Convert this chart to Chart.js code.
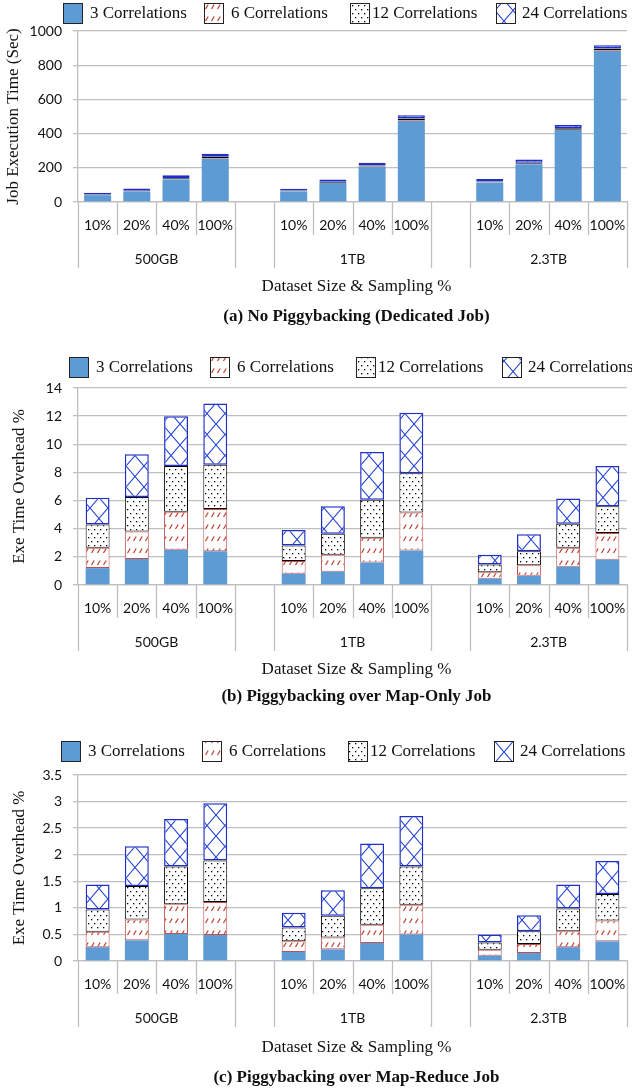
<!DOCTYPE html>
<html>
<head>
<meta charset="utf-8">
<script src="https://cdn.jsdelivr.net/npm/chart.js@4.4.0/dist/chart.umd.min.js"></script>
<style>
  html, body { margin: 0; padding: 0; background: #fff; overflow: hidden; }
  canvas { position: absolute; left: 0; }
</style>
</head>
<body>
<canvas id="chartA" width="632" height="340" style="top:0px"></canvas>
<canvas id="chartB" width="632" height="370" style="top:340px"></canvas>
<canvas id="chartC" width="632" height="381" style="top:710px"></canvas>
<script>
// Categories
const sizes = ['500GB', '1TB', '2.3TB'];
const samplings = ['10%', '20%', '40%', '100%'];
const seriesNames = ['3 Correlations', '6 Correlations', '12 Correlations', '24 Correlations'];

// (a) Job execution time (sec), stacked layers
const timeCorr3 = [40, 60, 132, 252, 62, 111, 205, 474, 113, 221, 421, 883];
const timeCorr6 = [1, 1, 1, 3, 1, 2, 2, 4, 2, 2, 2, 5];
const timeCorr12 = [3, 5, 6, 10, 4, 5, 6, 10, 5, 7, 9, 10];
const timeCorr24 = [10, 13, 17, 17, 11, 13, 17, 20, 15, 18, 18, 19];

// (b) Exe time overhead %, map-only job
const mapCorr3 = [1.2, 1.85, 2.5, 2.4, 0.8, 0.95, 1.6, 2.45, 0.45, 0.65, 1.3, 1.8];
const mapCorr6 = [1.45, 1.95, 2.7, 3.0, 0.9, 1.2, 1.75, 2.7, 0.45, 0.75, 1.35, 1.9];
const mapCorr12 = [1.65, 2.45, 3.25, 3.15, 1.1, 1.5, 2.7, 2.8, 0.55, 1.0, 1.7, 1.9];
const mapCorr24 = [1.9, 3.05, 3.55, 4.35, 1.1, 1.95, 3.4, 4.3, 0.7, 1.2, 1.8, 2.85];

// (c) Exe time overhead %, map-reduce job
const mrCorr3 = [0.26, 0.39, 0.51, 0.49, 0.17, 0.22, 0.34, 0.50, 0.10, 0.15, 0.26, 0.37];
const mrCorr6 = [0.29, 0.39, 0.56, 0.62, 0.20, 0.22, 0.34, 0.56, 0.11, 0.17, 0.30, 0.39];
const mrCorr12 = [0.42, 0.63, 0.71, 0.78, 0.26, 0.41, 0.69, 0.72, 0.14, 0.24, 0.43, 0.50];
const mrCorr24 = [0.47, 0.75, 0.89, 1.08, 0.28, 0.48, 0.84, 0.95, 0.15, 0.30, 0.45, 0.62];

// one empty category between the size groups
const labels = [];
sizes.forEach((s, g) => {
  if (g > 0) labels.push('');
  samplings.forEach(p => labels.push(p));
});
function spread(values) {
  const out = [];
  values.forEach((v, i) => {
    if (i > 0 && i % samplings.length === 0) out.push(null);
    out.push(v);
  });
  return out;
}

const SERIF = '"Liberation Serif", "Times New Roman", serif';
const SANS = 'Lato, "Open Sans", sans-serif';
const GRID = '#BFBFBF';

function makePattern(w, h, draw) {
  const c = document.createElement('canvas');
  c.width = w; c.height = h;
  const g = c.getContext('2d');
  g.fillStyle = '#fff';
  g.fillRect(0, 0, w, h);
  draw(g);
  return g.createPattern(c, 'repeat');
}
const redDashes = makePattern(6, 12, g => {
  g.strokeStyle = '#C0392B'; g.lineWidth = 1.2;
  g.beginPath(); g.moveTo(1.5, 9); g.lineTo(4.2, 4.5); g.stroke();
});
const dots = makePattern(6, 8, g => {
  g.fillStyle = '#000';
  g.fillRect(1, 1, 1.3, 1.3);
  g.fillRect(4, 5, 1.3, 1.3);
});
const lattice = makePattern(18, 21, g => {
  g.strokeStyle = '#1F3FD6'; g.lineWidth = 1.1;
  g.beginPath();
  g.moveTo(0, 21); g.lineTo(18, 0);
  g.moveTo(0, 0); g.lineTo(18, 21);
  g.stroke();
});

const fills = ['#5E9AD4', redDashes, dots, lattice];
const borders = ['#5E9AD4', '#C0504D', '#000000', '#1F2FC8'];
const borderWidths = [0, 1, 1, 1.5];

// legend, category table, titles, caption
const decorPlugin = {
  id: 'decor',
  afterDraw(chart, args, o) {
    const {ctx, chartArea: area, scales: {x}} = chart;
    const base = area.bottom;
    const n = labels.length;
    ctx.save();

    // category table lines
    ctx.strokeStyle = GRID; ctx.lineWidth = 1.3;
    for (let k = 0; k <= n; k++) {
      const px = Math.round(x.getPixelForValue(k - 0.5)) + 0.5;
      const full = k === 0 || k === n || labels[k - 1] === '' || labels[k] === '';
      ctx.beginPath();
      ctx.moveTo(px, base);
      ctx.lineTo(px, base + (full ? 66 : 33));
      ctx.stroke();
    }

    ctx.fillStyle = '#111';
    ctx.textAlign = 'center'; ctx.textBaseline = 'middle';
    ctx.font = '14px ' + SANS;
    labels.forEach((l, i) => {
      if (l) ctx.fillText(l, x.getPixelForValue(i), base + 23);
    });
    sizes.forEach((s, g) => {
      const start = g * (samplings.length + 1);
      ctx.fillText(s, x.getPixelForValue(start + 1.5), base + 57);
    });

    const cx = (area.left + area.right) / 2 + 4;
    ctx.font = '17px ' + SERIF;
    ctx.fillText('Dataset Size & Sampling %', cx, base + o.xTitleY);
    ctx.font = 'bold 17px ' + SERIF;
    ctx.fillText(o.caption, cx, base + o.captionY);

    // y title
    ctx.save();
    ctx.translate(o.yTitleX, (area.top + area.bottom) / 2);
    ctx.rotate(-Math.PI / 2);
    ctx.font = '17px ' + SERIF;
    ctx.fillText(o.yTitle, 0, 0);
    ctx.restore();

    // legend
    const boxOff = [0, 141, 287, 433];
    const textOff = [27, 168, 309, 459];
    ctx.textAlign = 'left';
    ctx.font = '17px ' + SERIF;
    chart.data.datasets.forEach((ds, i) => {
      const bx = o.legendX + boxOff[i];
      ctx.fillStyle = ds.backgroundColor;
      ctx.fillRect(bx, o.legendY, 19, 20);
      ctx.strokeStyle = '#222'; ctx.lineWidth = 1;
      ctx.strokeRect(bx + 0.5, o.legendY + 0.5, 19, 20);
      ctx.fillStyle = '#111';
      ctx.fillText(ds.label, o.legendX + textOff[i], o.legendY + 11);
    });
    ctx.restore();
  }
};

function buildChart(id, series, cfg) {
  const canvas = document.getElementById(id);
  const top = parseFloat(canvas.style.top);
  return new Chart(canvas, {
    type: 'bar',
    data: {
      labels: labels,
      datasets: series.map((vals, i) => ({
        label: seriesNames[i],
        data: spread(vals),
        backgroundColor: fills[i],
        borderColor: borders[i],
        borderWidth: borderWidths[i],
        borderSkipped: false,
        categoryPercentage: 1,
        barPercentage: cfg.barPct
      }))
    },
    options: {
      responsive: false,
      animation: false,
      events: [],
      layout: { padding: { top: cfg.areaTop - top, right: 5, left: 0, bottom: 0 } },
      plugins: {
        legend: { display: false },
        tooltip: { enabled: false },
        decor: {
          caption: cfg.caption, yTitle: cfg.yTitle, yTitleX: cfg.yTitleX,
          legendX: cfg.legendX, legendY: cfg.legendY - top,
          xTitleY: cfg.xTitleY, captionY: cfg.captionY
        }
      },
      scales: {
        x: {
          stacked: true,
          ticks: { display: false },
          grid: { display: false },
          border: { display: true, color: GRID, width: 1.3 },
          afterFit: s => { s.height = canvas.height - (cfg.areaBottom - top); }
        },
        y: {
          stacked: true,
          min: 0, max: cfg.max,
          ticks: {
            stepSize: cfg.step, padding: 11, color: '#111',
            font: { family: SANS, size: 14 },
            callback: v => String(+v.toFixed(2))
          },
          grid: { color: GRID, lineWidth: 1.3, tickLength: 5 },
          border: { display: true, color: GRID, width: 1.3 },
          afterFit: s => { s.width = 78; }
        }
      }
    },
    plugins: [decorPlugin]
  });
}

buildChart('chartA', [timeCorr3, timeCorr6, timeCorr12, timeCorr24], {
  areaTop: 31, areaBottom: 202, max: 1000, step: 200, barPct: 0.69,
  yTitle: 'Job Execution Time (Sec)', yTitleX: 14,
  legendX: 63, legendY: 3, xTitleY: 85, captionY: 115,
  caption: '(a) No Piggybacking (Dedicated Job)'
});
buildChart('chartB', [mapCorr3, mapCorr6, mapCorr12, mapCorr24], {
  areaTop: 388, areaBottom: 585, max: 14, step: 2, barPct: 0.61,
  yTitle: 'Exe Time Overhead %', yTitleX: 20,
  legendX: 69, legendY: 357, xTitleY: 85, captionY: 112,
  caption: '(b) Piggybacking over Map-Only Job'
});
buildChart('chartC', [mrCorr3, mrCorr6, mrCorr12, mrCorr24], {
  areaTop: 775, areaBottom: 961, max: 3.5, step: 0.5, barPct: 0.61,
  yTitle: 'Exe Time Overhead %', yTitleX: 20,
  legendX: 61, legendY: 741, xTitleY: 87, captionY: 117,
  caption: '(c) Piggybacking over Map-Reduce Job'
});
</script>
</body>
</html>
